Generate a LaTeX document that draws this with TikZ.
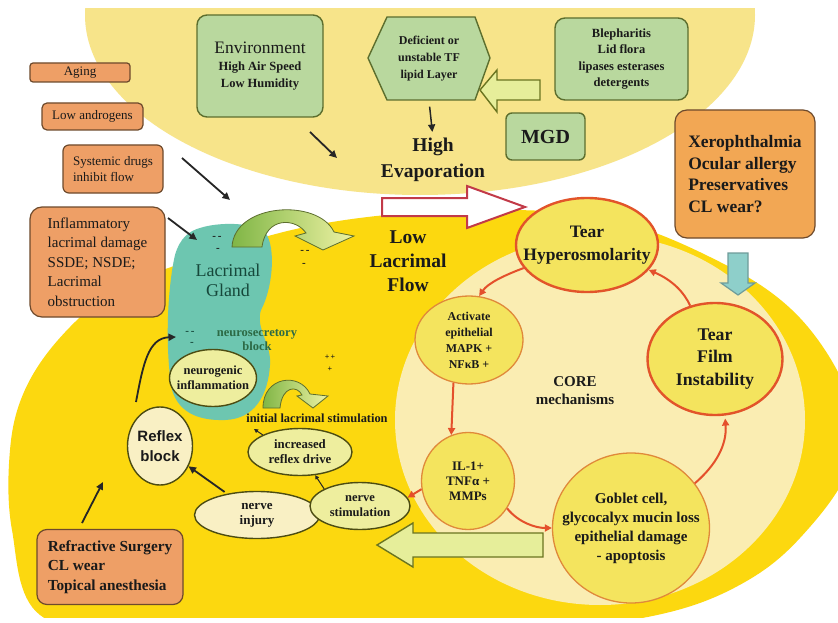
\documentclass[tikz,border=0pt]{standalone}
\usepackage{fontspec}
\setmainfont{Liberation Serif}
\newfontfamily\sansbold{Liberation Sans}
\usetikzlibrary{shapes.geometric,arrows.meta,calc}
\definecolor{palebg}{HTML}{F7E48A}
\definecolor{yelbg}{HTML}{FCD80F}
\definecolor{creambg}{HTML}{FAEDB2}
\definecolor{glandteal}{HTML}{6DC6B0}
\definecolor{gfill}{HTML}{B9D89E}
\definecolor{gline}{HTML}{5C6E2E}
\definecolor{ofill}{HTML}{EE9F66}
\definecolor{oline}{HTML}{6E4A2C}
\definecolor{xfill}{HTML}{F2A754}
\definecolor{corefill}{HTML}{F4E45E}
\definecolor{coreline}{HTML}{E2542A}
\definecolor{subline}{HTML}{E0893A}
\definecolor{arrred}{HTML}{E4502B}
\definecolor{pfill}{HTML}{EEEE9E}
\definecolor{cfill}{HTML}{F9F0C4}
\definecolor{eline}{HTML}{4C4C12}
\definecolor{hollowfill}{HTML}{E6EE9A}
\definecolor{hollowline}{HTML}{6A7420}
\definecolor{bluefill}{HTML}{8ECFCA}
\definecolor{blueline}{HTML}{6F9C9A}
\definecolor{redhollow}{HTML}{C23A48}
\definecolor{greenarr}{HTML}{80B646}
\definecolor{palearr}{HTML}{EEF2A4}
\definecolor{glandtext}{HTML}{16483B}
\definecolor{neurotext}{HTML}{2C6A45}
\definecolor{txtc}{HTML}{1A1A1A}
\newcommand{\myfs}[2]{\fontsize{#1}{#2}\selectfont}
\begin{document}
\begin{tikzpicture}[x=1pt,y=-1pt,
  gbox/.style={draw=gline,fill=gfill,line width=1.4pt,rounded corners=10pt,inner sep=0pt,align=center,text=txtc},
  obox/.style={draw=oline,fill=ofill,line width=1.2pt,rounded corners=6pt,inner sep=0pt,text=txtc},
  core/.style={ellipse,draw=coreline,line width=2.4pt,fill=corefill,inner sep=0pt},
  sub/.style={ellipse,draw=subline,line width=1.3pt,fill=corefill,inner sep=0pt},
  pnode/.style={ellipse,draw=eline,line width=1.4pt,fill=pfill,inner sep=0pt},
  cnode/.style={ellipse,draw=eline,line width=1.4pt,fill=cfill,inner sep=0pt},
  lbl/.style={inner sep=0pt,align=center,text=txtc},
  blk/.style={-{Triangle[length=7.5pt,width=7pt]},line width=1.8pt,draw=black!85},
  tinyarr/.style={-{Triangle[length=4pt,width=4pt]},line width=1pt,draw=black!85},
  redarr/.style={-{Triangle[length=7pt,width=7pt]},line width=2pt,draw=arrred},
  hollow/.style={draw=hollowline,line width=1.4pt,fill=hollowfill,line join=miter},
  curvarr/.style={draw=gline,line width=0.8pt,left color=greenarr,right color=palearr}
]
\path[use as bounding box] (0,0) rectangle (838,623);
\fill[white] (0,0) rectangle (838,623);
% backgrounds
\begin{scope}
\clip (0,9) rectangle (838,617);
\fill[palebg] (420,15) ellipse [x radius=335pt, y radius=180pt];
\fill[yelbg] plot[smooth cycle, tension=0.6] coordinates {(450,211) (600,217) (720,262) (800,318) (850,400) (848,470) (800,538) (745,582) (670,612) (560,628) (380,636) (150,636) (40,615) (12,530) (10,450) (24,392) (58,340) (110,294) (180,264) (310,226)};
\fill[creambg] (600,420) ellipse [x radius=205pt, y radius=185pt];
\end{scope}
% lacrimal gland
\fill[glandteal] (200,228) .. controls (218,222) and (252,222) .. (265,232) .. controls (277,248) and (272,290) .. (261,310) .. controls (255,328) and (272,345) .. (270,365) .. controls (268,395) and (255,419) .. (225,420) .. controls (195,421) and (178,410) .. (172,390) .. controls (165,350) and (167,290) .. (175,255) .. controls (180,238) and (189,231) .. (200,228) -- cycle;
% block arrows
\draw[hollow] (540,80) -- (497,80) -- (497,70) -- (480,90) -- (497,112) -- (497,100) -- (540,100) -- cycle;
\draw[draw=redhollow,fill=white,line width=2pt] (382,198) -- (467,198) -- (467,186) -- (525,207) -- (467,228) -- (467,216) -- (382,216) -- cycle;
\draw[draw=blueline,fill=bluefill,line width=1.2pt] (728,253) -- (748,253) -- (748,283) -- (755,283) -- (738,295) -- (721,283) -- (728,283) -- cycle;
\draw[hollow] (543,533) -- (413,533) -- (413,523) -- (377,545) -- (413,567) -- (413,557) -- (543,557) -- cycle;
% curved green arrows
\path[curvarr] (232,247) .. controls (234,203) and (318,198) .. (334,232) -- (354,236) -- (323,250) -- (295,236) -- (306,233) .. controls (296,218) and (266,216) .. (262,247) -- cycle;
\path[curvarr] (263,408) .. controls (263,376) and (300,372) .. (310,394) -- (328,396) -- (313,408) -- (297,396) -- (302,395) .. controls (297,385) and (282,386) .. (280,408) -- cycle;
% hexagon
\draw[draw=gline,fill=gfill,line width=1.4pt,line join=round] (368,58) -- (387,17) -- (475,17) -- (490,58) -- (475,100) -- (387,100) -- cycle;
\node[lbl,minimum width=122pt,minimum height=83pt,font=\myfs{12}{17}\bfseries] (hex) at (429,59) {Deficient or\\unstable TF\\lipid Layer};
% top boxes
\node[gbox,minimum width=126pt,minimum height=102pt,font=\myfs{12.5}{17}\bfseries] (env) at (260,66) {{\mdseries\myfs{17.5}{21}Environment}\\High Air Speed\\Low Humidity};
\node[gbox,minimum width=133pt,minimum height=82pt,font=\myfs{12.5}{16.5}\bfseries] (bleph) at (621.5,59) {Blepharitis\\Lid flora\\lipases esterases\\detergents};
\node[gbox,rounded corners=6pt,minimum width=79pt,minimum height=47pt,font=\myfs{20}{22}\bfseries] (mgd) at (545.5,136.5) {MGD};
% orange boxes
\node[obox,rounded corners=3pt,minimum width=100pt,minimum height=19pt,font=\myfs{13}{14}] (aging) at (80,72.5) {Aging};
\node[obox,rounded corners=5pt,minimum width=101pt,minimum height=27pt,font=\myfs{13}{14}] (andro) at (92.5,116.5) {Low androgens};
\node[obox,minimum width=100pt,minimum height=48pt,align=left,font=\myfs{13}{16}] (sysd) at (113,169) {Systemic drugs\\inhibit flow};
\node[obox,rounded corners=12pt,minimum width=135pt,minimum height=110pt,align=left,font=\myfs{15}{19.5}] (inflam) at (97.5,262) {Inflammatory\\lacrimal damage\\SSDE; NSDE;\\Lacrimal\\obstruction};
\node[obox,fill=xfill,rounded corners=12pt,minimum width=140pt,minimum height=128pt,align=left,font=\myfs{17.5}{21.5}\bfseries] (xero) at (745,174) {Xerophthalmia\\Ocular allergy\\Preservatives\\CL wear?};
\node[obox,rounded corners=10pt,minimum width=146pt,minimum height=75pt,align=left,font=\myfs{15.3}{19.5}\bfseries] (refr) at (110,567) {Refractive Surgery\\CL wear\\Topical anesthesia};
% free text
\node[lbl,font=\myfs{19.5}{26}\bfseries] (hev) at (433,160) {High\\Evaporation};
\node[lbl,font=\myfs{19.5}{24}\bfseries] (llf) at (408,261) {Low\\Lacrimal\\Flow};
\node[lbl,text=glandtext,font=\myfs{18}{20}] (gland) at (228,280) {Lacrimal\\Gland};
\node[lbl,text=neurotext,font=\myfs{12.5}{13.5}\bfseries] (nsb) at (257,340) {neurosecretory\\block};
\node[lbl,font=\myfs{12.4}{13}\bfseries] (ils) at (317,418) {initial lacrimal stimulation};
\node[lbl,font=\myfs{15}{18}\bfseries] (coretxt) at (575,391) {CORE\\mechanisms};
% dash / plus marks
\node[lbl,font=\myfs{11}{11}\bfseries] (d1) at (217,238) {-\,-};
\node[lbl,font=\myfs{11}{11}\bfseries] (d1b) at (218,250) {-};
\node[lbl,font=\myfs{11}{11}\bfseries] (d2) at (305,252) {-\,-};
\node[lbl,font=\myfs{11}{11}\bfseries] (d2b) at (304,265) {-};
\node[lbl,text=glandtext,font=\myfs{11}{11}\bfseries] (d3) at (190,333) {-\,-};
\node[lbl,text=glandtext,font=\myfs{11}{11}\bfseries] (d3b) at (192,344) {-};
\node[lbl,font=\myfs{8}{8}\bfseries] (p1) at (330,357) {+\,+};
\node[lbl,font=\myfs{8}{8}\bfseries] (p1b) at (330,369) {+};
% core nodes
\node[core,minimum width=142pt,minimum height=94pt,label={[lbl,font=\myfs{17.5}{23}\bfseries]center:{Tear\\Hyperosmolarity}}] (hyper) at (587,245) {};
\node[core,minimum width=135pt,minimum height=112pt,label={[lbl,font=\myfs{17.8}{22.5}\bfseries]center:{Tear\\Film\\Instability}}] (tfi) at (715,359) {};
\node[sub,minimum width=108pt,minimum height=88pt,label={[lbl,font=\myfs{12}{16}\bfseries]center:{Activate\\epithelial\\MAPK +\\NFκB +}}] (act) at (469,340) {};
\node[sub,minimum width=93pt,minimum height=97pt,label={[lbl,font=\myfs{13}{15}\bfseries]center:{IL-1+\\TNFα +\\MMPs}}] (il1) at (468,481) {};
\node[sub,minimum width=157pt,minimum height=150pt,label={[lbl,font=\myfs{15}{19}\bfseries]center:{Goblet cell,\\glycocalyx mucin loss\\epithelial damage\\- apoptosis}}] (gob) at (631,528) {};
% left ellipses
\node[pnode,minimum width=87pt,minimum height=57pt,label={[lbl,font=\myfs{12.5}{15}\bfseries]center:{neurogenic\\inflammation}}] (neuro) at (213,378) {};
\node[pnode,minimum width=104pt,minimum height=47pt,label={[lbl,font=\myfs{12.8}{15}\bfseries]center:{increased\\reflex drive}}] (incr) at (300,452) {};
\node[cnode,minimum width=125pt,minimum height=47pt,label={[lbl,font=\myfs{13}{15}\bfseries]center:{nerve\\injury}}] (injury) at (257,515) {};
\node[pnode,minimum width=100pt,minimum height=47pt,label={[lbl,font=\myfs{12.5}{15}\bfseries]center:{nerve\\stimulation}}] (stim) at (360,506) {};
\node[cnode,minimum width=65pt,minimum height=78pt,label={[lbl,font=\sansbold\myfs{15}{20}\bfseries]center:{Reflex\\block}}] (reflex) at (160,446) {};
% free ends
\coordinate (envA) at (310,132);
\coordinate (envB) at (337,158);
\coordinate (sdA) at (182,158);
\coordinate (sdB) at (230,200);
\coordinate (inA) at (168,218);
\coordinate (inB) at (197,240);
\coordinate (rbA) at (136,402);
\coordinate (rbB) at (176,337);
\coordinate (rfA) at (82,523);
\coordinate (rfB) at (103,482);
\coordinate (ilsP) at (254,429);
% black arrows
\draw[blk] (envA) -- (envB);
\draw[blk,line width=1.5pt,shorten >=6pt,shorten <=6pt] (hex.south) -- (hev.north);
\draw[blk] (sdA) -- (sdB);
\draw[blk] (inA) -- (inB);
\draw[blk] (rbA) .. controls (143,365) and (148,338) .. (rbB);
\draw[blk] (rfA) -- (rfB);
\draw[blk,shorten <=3pt] (injury) -- (reflex);
\draw[tinyarr] (incr.north west) -- (ilsP);
\draw[tinyarr] (stim.north west) -- (incr);
% red arrows
\draw[redarr] (hyper.200) .. controls (505,275) and (488,283) .. (act.77);
\draw[redarr] (act.250) -- (il1.110);
\draw[redarr] (il1.190) -- (stim.10);
\draw[redarr] (il1.-35) .. controls (518,522) and (535,528) .. (gob.180);
\draw[redarr,shorten >=3pt] (gob.35) .. controls (716,465) and (727,445) .. (tfi.-80);
\draw[redarr] (tfi.115) .. controls (684,292) and (672,280) .. (hyper.-22);
\end{tikzpicture}
\end{document}
